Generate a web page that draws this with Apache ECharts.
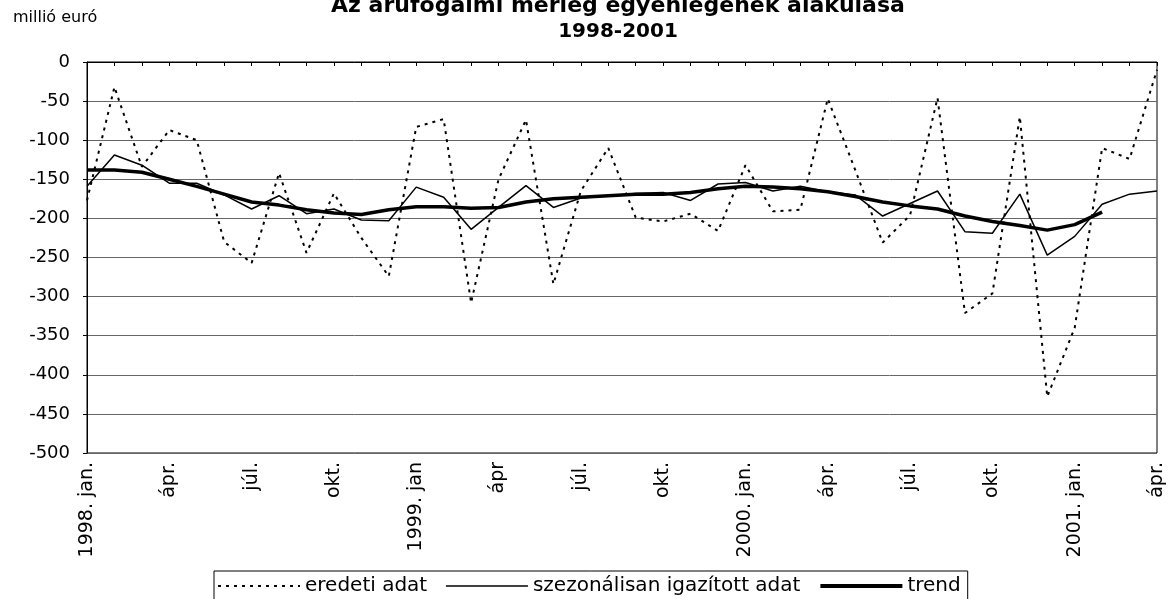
<!DOCTYPE html>
<html>
<head>
<meta charset="utf-8">
<script src="https://cdn.jsdelivr.net/npm/echarts@6/dist/echarts.min.js"></script>
<style>
    html, body { margin: 0; padding: 0; background: #fff; }
    #chart { width: 1170px; height: 599px; }
</style>
</head>
<body>
<div id="chart"></div>
<script>
    // havi adatok, 1998. jan. - 2001. ápr.
    const categories = [
        '1998. jan.', 'febr.', 'márc.', 'ápr.', 'máj.', 'jún.', 'júl.', 'aug.', 'szept.', 'okt.', 'nov.', 'dec.',
        '1999. jan.', 'febr.', 'márc.', 'ápr.', 'máj.', 'jún.', 'júl.', 'aug.', 'szept.', 'okt.', 'nov.', 'dec.',
        '2000. jan.', 'febr.', 'márc.', 'ápr.', 'máj.', 'jún.', 'júl.', 'aug.', 'szept.', 'okt.', 'nov.', 'dec.',
        '2001. jan.', 'febr.', 'márc.', 'ápr.'
    ];
    // minden harmadik hónap felirata
    const tickLabels = [
        '1998. jan.', 'ápr.', 'júl.', 'okt.',
        '1999. jan', 'ápr', 'júl.', 'okt.',
        '2000. jan.', 'ápr.', 'júl.', 'okt.',
        '2001. jan.', 'ápr.'
    ];
    const eredeti = [
        -177, -32, -134, -87, -100, -230, -257, -142, -244, -168, -225, -274,
        -83, -73, -308, -150, -74, -284, -165, -110, -199, -204, -194, -216,
        -132, -191, -189, -47, -138, -231, -196, -46, -321, -296, -70, -428,
        -340, -110, -124, -10
    ];
    const szezonalis = [
        -159, -119, -132, -155, -155, -170, -188, -171, -194, -188, -202, -203,
        -160, -173, -214, -186, -158, -186, -174, -171, -168, -167, -177, -156,
        -154, -165, -159, -166, -170, -197, -181, -165, -217, -219, -169, -247,
        -223, -182, -169, -165
    ];
    const trend = [
        -138, -138, -141, -150, -159, -169, -179, -183, -189, -193, -195, -189,
        -185, -185, -187, -186, -179, -175, -173, -171, -169, -169, -167, -162,
        -159, -160, -162, -166, -172, -179, -184, -188, -197, -204, -209, -215,
        -208, -192
    ];

    const font = 'DejaVu Sans';
    const myChart = echarts.init(document.getElementById('chart'));
    const option = {
        animation: false,
        color: ['#000', '#000', '#000'],
        textStyle: { fontFamily: font, color: '#000' },
        title: [
            {
                text: '{a|Az árufogalmi mérleg egyenlegének alakulása}\n{b|1998-2001}',
                left: 613,
                top: -11,
                textAlign: 'center',
                textStyle: {
                    rich: {
                        a: { fontFamily: font, fontSize: 22, fontWeight: 'bold', lineHeight: 25, color: '#000' },
                        b: { fontFamily: font, fontSize: 20, fontWeight: 'bold', lineHeight: 25, color: '#000' }
                    }
                }
            },
            {
                text: 'millió euró',
                left: 8,
                top: 5,
                textStyle: { fontFamily: font, fontSize: 16, fontWeight: 'normal', color: '#000' }
            }
        ],
        legend: {
            left: 214,
            top: 571,
            padding: [5, 7, 20, 3],
            borderColor: '#000',
            borderWidth: 1,
            itemWidth: 82,
            itemHeight: 14,
            itemGap: 18,
            itemStyle: { opacity: 0 },
            textStyle: { fontFamily: font, fontSize: 20, color: '#000' },
            data: [
                { name: 'eredeti adat', lineStyle: { width: 2, type: [3, 5] } },
                { name: 'szezonálisan igazított adat', lineStyle: { width: 1.5 } },
                { name: 'trend', lineStyle: { width: 4 } }
            ]
        },
        grid: {
            left: 87,
            right: 13,
            top: 62,
            bottom: 146,
            show: true,
            borderColor: '#000',
            borderWidth: 1
        },
        xAxis: [
            {
                type: 'category',
                boundaryGap: false,
                data: categories,
                position: 'bottom',
                axisLine: { show: false },
                axisTick: { show: false },
                axisLabel: {
                    interval: 0,
                    rotate: 90,
                    margin: 9,
                    fontFamily: font,
                    fontSize: 19,
                    color: '#000',
                    formatter: function (val, idx) {
                        return idx % 3 === 0 ? tickLabels[idx / 3] : '';
                    }
                }
            },
            {
                type: 'category',
                boundaryGap: false,
                data: categories,
                position: 'top',
                axisLine: { show: true, onZero: false, lineStyle: { color: '#000', width: 1 } },
                axisTick: { show: true, inside: true, length: 4, interval: 0, lineStyle: { color: '#000' } },
                axisLabel: { show: false }
            }
        ],
        yAxis: {
            type: 'value',
            min: -500,
            max: 0,
            interval: 50,
            axisLine: { show: true, lineStyle: { color: '#000', width: 1 } },
            axisTick: { show: true, length: 4, lineStyle: { color: '#000' } },
            axisLabel: { margin: 17, fontFamily: font, fontSize: 18, color: '#000' },
            splitLine: { show: true, lineStyle: { color: '#666', width: 1 } }
        },
        series: [
            {
                name: 'eredeti adat',
                type: 'line',
                data: eredeti,
                symbol: 'none',
                itemStyle: { color: '#000' },
                lineStyle: { color: '#000', width: 2, type: [3, 5] }
            },
            {
                name: 'szezonálisan igazított adat',
                type: 'line',
                data: szezonalis,
                symbol: 'none',
                itemStyle: { color: '#000' },
                lineStyle: { color: '#000', width: 1.5 }
            },
            {
                name: 'trend',
                type: 'line',
                data: trend,
                symbol: 'none',
                itemStyle: { color: '#000' },
                lineStyle: { color: '#000', width: 3.5 }
            }
        ]
    };
    myChart.setOption(option);
</script>
</body>
</html>
